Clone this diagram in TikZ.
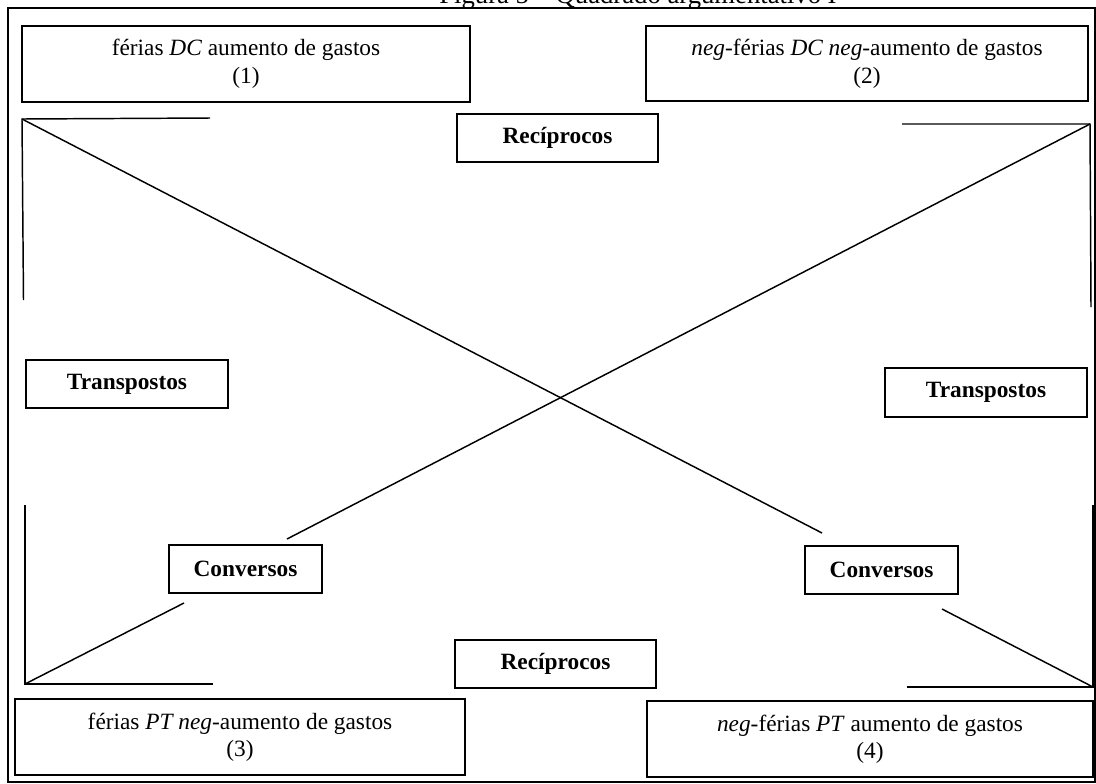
\documentclass[tikz,border=0pt]{standalone}
\usepackage{fontspec}
\setmainfont{Liberation Serif}
\usepackage{tikz}

\tikzset{
  frase/.style={draw, line width=1.4pt, inner sep=0pt, align=center, font=\fontsize{17.5}{20}\selectfont},
  rotulo/.style={draw, line width=1.4pt, inner sep=0pt, font=\fontsize{17.5}{20}\selectfont\bfseries},
  traco/.style={line width=1.1pt}
}

\begin{document}
\begin{tikzpicture}[x=0.75pt,y=0.75pt,yscale=-1,xscale=1]
    \useasboundingbox (0,0) rectangle (1096,783);
    % Title (cut by the page)
    \node (titulo) [anchor=base, font=\fontsize{20}{24}\selectfont] at (638,3) {Figura 5 -- Quadrado argumentativo I};
    % Frame
    \draw [line width=1.5pt] (8,8) rectangle (1095,782);

    % Text Nodes: the four sentences
    \node (p1) [frase, minimum width=336pt, minimum height=57pt] at (246,64) {férias \textit{DC} aumento de gastos\\[1pt](1)};
    \node (p2) [frase, minimum width=331.5pt, minimum height=56.25pt] at (867,63.5) {\textit{neg}-férias \textit{DC neg}-aumento de gastos\\[1pt](2)};
    \node (p3) [frase, minimum width=337.5pt, minimum height=57pt] at (240,737) {férias \textit{PT neg}-aumento de gastos\\(3)};
    \node (p4) [frase, minimum width=334.5pt, minimum height=57pt] at (870,739) {\textit{neg}-férias \textit{PT} aumento de gastos\\(4)};

    % Text Nodes: the relations
    \node (recA) [rotulo, minimum width=150.75pt, minimum height=36pt] at (557.5,138) {Recíprocos};
    \node (recB) [rotulo, minimum width=150.75pt, minimum height=36pt] at (555.5,664) {Recíprocos};
    \node (traA) [rotulo, minimum width=151.5pt, minimum height=36pt] at (127,384) {Transpostos};
    \node (traB) [rotulo, minimum width=151.5pt, minimum height=36.75pt] at (986,392.5) {Transpostos};
    \node (conA) [rotulo, minimum width=114.75pt, minimum height=36pt] at (245.5,569) {Conversos};
    \node (conB) [rotulo, minimum width=114.75pt, minimum height=36pt] at (881.5,570) {Conversos};

    % Corners and line ends
    \coordinate (c1) at (22,119);
    \coordinate (c1h) at (210,118);
    \coordinate (c1v) at (23.5,300);
    \coordinate (c2) at (1090,124);
    \coordinate (c2h) at (902,124);
    \coordinate (c2v) at (1091,307);
    \coordinate (c3) at (25,684);
    \coordinate (c3h) at (213,684);
    \coordinate (c3v) at (25,505);
    \coordinate (c4) at (1093,687);
    \coordinate (c4h) at (907,687);
    \coordinate (c4v) at (1093,505);
    \coordinate (d1) at (822,533);
    \coordinate (d2) at (287,539);
    \coordinate (d3) at (184,603);
    \coordinate (d4) at (942,609);

    %Straight Lines
    \draw [traco] (c1h) -- (c1) -- (c1v);
    \draw [traco] (c2h) -- (c2) -- (c2v);
    \draw [traco] (c3v) -- (c3) -- (c3h);
    \draw [traco] (c4v) -- (c4) -- (c4h);
    %Straight Lines (diagonals)
    \draw [traco] (c1) -- (d1);
    \draw [traco] (c2) -- (d2);
    \draw [traco] (c3) -- (d3);
    \draw [traco] (d4) -- (c4);
\end{tikzpicture}
\end{document}
